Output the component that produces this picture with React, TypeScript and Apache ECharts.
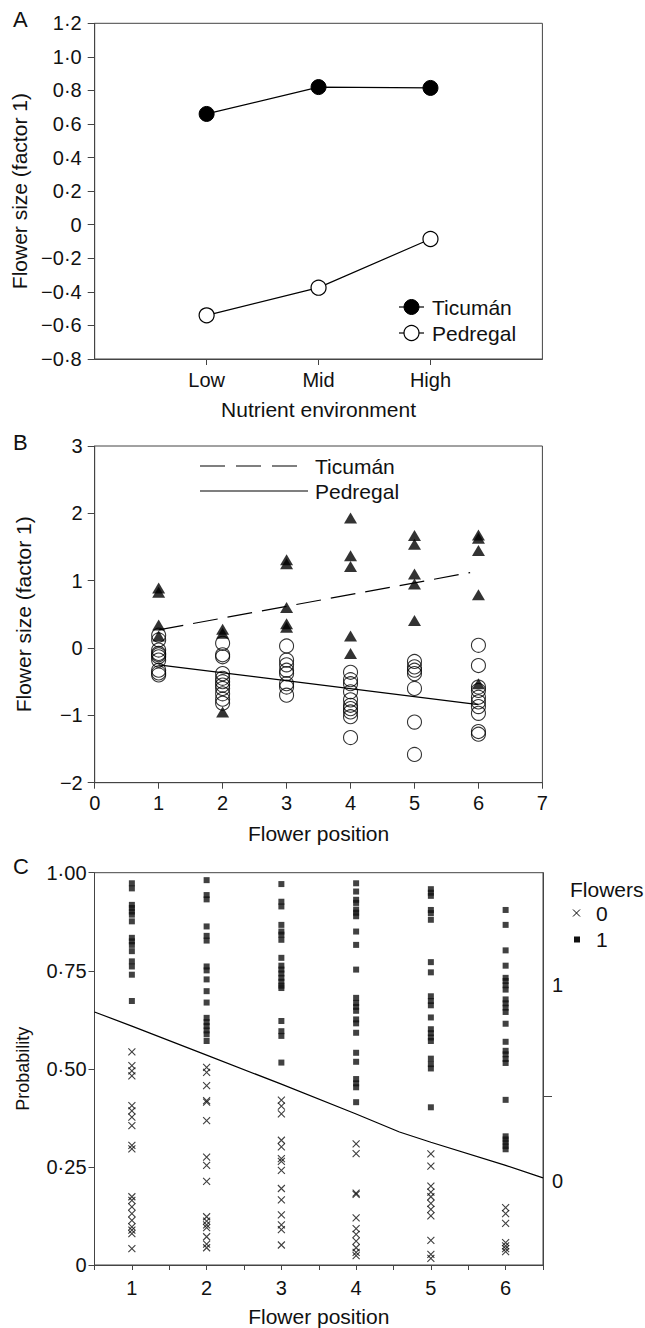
import React, { useEffect, useRef } from "react";
import * as echarts from "echarts";

const FONT = "'Liberation Sans', Arial, Helvetica, sans-serif";
const TEXT = "#111";
const AXIS = "#444";
const INK = "#000";

// ---------- Panel A ----------
const aCategories = ["Low", "Mid", "High"];
const aTicuman = [0.66, 0.82, 0.815];
const aPedregal = [-0.54, -0.375, -0.085];

// ---------- Panel B ----------
const bPositions = [1, 2, 3, 4, 5, 6];
// Ticumán (triangles), one row per flower position
const bTicuman: number[][] = [
  [0.89, 0.83, 0.34, 0.18],
  [0.28, 0.22, -0.95],
  [1.31, 1.25, 0.6, 0.36, 0.31],
  [1.93, 1.37, 1.21, 0.18, -0.08],
  [1.67, 1.54, 1.1, 0.95, 0.41],
  [1.68, 1.63, 1.45, 0.79, -0.53],
];
// Pedregal (open circles), one row per flower position
const bPedregal: number[][] = [
  [0.19, 0.12, -0.03, -0.08, -0.1, -0.13, -0.18, -0.33, -0.37, -0.4],
  [0.07, -0.1, -0.13, -0.38, -0.45, -0.5, -0.55, -0.6, -0.68, -0.76, -0.82],
  [0.03, -0.18, -0.25, -0.33, -0.38, -0.53, -0.58, -0.7],
  [-0.36, -0.47, -0.53, -0.65, -0.77, -0.85, -0.9, -0.95, -1.02, -1.33],
  [-0.2, -0.28, -0.33, -0.38, -0.6, -1.1, -1.58],
  [0.04, -0.26, -0.58, -0.63, -0.73, -0.8, -0.87, -0.97, -1.24, -1.28],
];
const bTicumanFitX = [1, 5.87];
const bTicumanFitY = [0.27, 1.12];
const bPedregalFitX = [1, 6];
const bPedregalFitY = [-0.25, -0.84];

// ---------- Panel C ----------
const cPositions = [1, 2, 3, 4, 5, 6];
// Flowers = 1 (squares)
const cOnes: number[][] = [
  [0.973, 0.96, 0.918, 0.91, 0.901, 0.893, 0.876, 0.834, 0.825, 0.816, 0.8, 0.774, 0.761, 0.74, 0.673],
  [0.981, 0.943, 0.932, 0.863, 0.839, 0.827, 0.761, 0.751, 0.728, 0.698, 0.669, 0.63, 0.619, 0.609, 0.598, 0.588, 0.571],
  [0.971, 0.926, 0.914, 0.867, 0.85, 0.842, 0.829, 0.783, 0.763, 0.753, 0.743, 0.732, 0.722, 0.712, 0.706, 0.622, 0.596, 0.584, 0.516],
  [0.973, 0.952, 0.931, 0.923, 0.906, 0.898, 0.889, 0.85, 0.816, 0.753, 0.681, 0.668, 0.658, 0.648, 0.626, 0.616, 0.592, 0.541, 0.518, 0.474, 0.463, 0.453, 0.415],
  [0.958, 0.949, 0.941, 0.905, 0.897, 0.88, 0.772, 0.746, 0.685, 0.673, 0.662, 0.631, 0.601, 0.591, 0.58, 0.571, 0.526, 0.512, 0.501, 0.402],
  [0.905, 0.867, 0.802, 0.763, 0.732, 0.724, 0.713, 0.702, 0.677, 0.667, 0.656, 0.645, 0.615, 0.569, 0.546, 0.537, 0.525, 0.515, 0.421, 0.328, 0.32, 0.312, 0.303, 0.295],
];
// Flowers = 0 (crosses)
const cZeros: number[][] = [
  [0.543, 0.508, 0.495, 0.482, 0.406, 0.393, 0.377, 0.355, 0.305, 0.296, 0.174, 0.165, 0.148, 0.131, 0.114, 0.097, 0.089, 0.08, 0.042],
  [0.504, 0.491, 0.457, 0.419, 0.415, 0.368, 0.275, 0.254, 0.213, 0.123, 0.112, 0.102, 0.095, 0.072, 0.053, 0.044],
  [0.42, 0.405, 0.385, 0.318, 0.301, 0.271, 0.264, 0.241, 0.195, 0.166, 0.128, 0.102, 0.09, 0.051],
  [0.309, 0.284, 0.183, 0.18, 0.12, 0.093, 0.078, 0.061, 0.044, 0.032, 0.024],
  [0.283, 0.252, 0.201, 0.186, 0.174, 0.157, 0.142, 0.125, 0.063, 0.027, 0.017],
  [0.146, 0.131, 0.106, 0.057, 0.049, 0.042, 0.034],
];
const cCurveX = [0.5, 1, 2, 3, 4, 4.58, 5, 6, 6.5];
const cCurveY = [0.645, 0.609, 0.535, 0.461, 0.385, 0.339, 0.313, 0.254, 0.222];
const cRightLabels = [0, 1];
const cRightTicks = [0.433];
const cRightMin = -0.427;
const cRightMax = 1.569;

function fmtDec(v: number, d: number): string {
  if (Math.abs(v) < 1e-9) return "0";
  const s = Math.abs(v).toFixed(d).replace(".", "\u00b7");
  return (v < 0 ? "\u2212" : "") + s;
}
function fmtInt(v: number): string {
  if (Math.abs(v) < 1e-9) return "0";
  return (v < 0 ? "\u2212" : "") + String(Math.abs(Math.round(v)));
}

const flatten = (pos: number[], rows: number[][]) =>
  rows.flatMap((r, i) => r.map((v) => [pos[i], v]));

const CROSS = "path://M0,0L10,10M0,10L10,0";

export default function App() {
  const ref = useRef<HTMLDivElement>(null);
  useEffect(() => {
    document.body.style.margin = "0";
    if (!ref.current) return;
    const chart = echarts.init(ref.current, undefined, { renderer: "svg" });

    const axisLine = { show: true, onZero: false, lineStyle: { color: AXIS, width: 1 } };
    const label = (margin: number, extra: any = {}) => ({
      color: TEXT,
      fontFamily: FONT,
      fontSize: 20,
      margin,
      ...extra,
    });
    const nameStyle = (size = 21) => ({ color: TEXT, fontFamily: FONT, fontSize: size });

    const option: any = {
      animation: false,
      backgroundColor: "#fff",
      grid: [
        { left: 94.7, top: 23.3, width: 447.7, height: 335.7, show: true, borderColor: AXIS, borderWidth: 1 },
        { left: 94.7, top: 446, width: 447.7, height: 336.7, show: true, borderColor: AXIS, borderWidth: 1 },
        { left: 94.5, top: 872.7, width: 448.5, height: 394, show: true, borderColor: AXIS, borderWidth: 1 },
      ],
      xAxis: [
        {
          gridIndex: 0,
          type: "value",
          min: 0,
          max: 4,
          interval: 1,
          axisLine,
          splitLine: { show: false },
          axisTick: { show: true, length: 6, lineStyle: { color: AXIS }, customValues: [1, 2, 3] },
          axisLabel: label(11, {
            customValues: [1, 2, 3],
            formatter: (v: number) => aCategories[Math.round(v) - 1] || "",
          }),
          name: "Nutrient environment",
          nameLocation: "middle",
          nameGap: 40,
          nameTextStyle: nameStyle(),
        },
        {
          gridIndex: 1,
          type: "value",
          min: 0,
          max: 7,
          interval: 1,
          axisLine,
          splitLine: { show: false },
          axisTick: { show: true, length: 6, lineStyle: { color: AXIS } },
          axisLabel: label(10, { formatter: fmtInt }),
          name: "Flower position",
          nameLocation: "middle",
          nameGap: 40,
          nameTextStyle: nameStyle(),
        },
        {
          gridIndex: 2,
          type: "value",
          min: 0.5,
          max: 6.5,
          interval: 0.5,
          axisLine,
          splitLine: { show: false },
          axisTick: { show: true, length: 5, lineStyle: { color: AXIS } },
          axisLabel: label(13, {
            interval: 0,
            formatter: (v: number) => (Math.abs(v - Math.round(v)) < 1e-6 ? String(Math.round(v)) : ""),
          }),
          name: "Flower position",
          nameLocation: "middle",
          nameGap: 41,
          nameTextStyle: nameStyle(),
        },
      ],
      yAxis: [
        {
          gridIndex: 0,
          type: "value",
          min: -0.8,
          max: 1.2,
          interval: 0.2,
          axisLine,
          splitLine: { show: false },
          axisTick: { show: true, length: 7, lineStyle: { color: AXIS } },
          axisLabel: label(13, { formatter: (v: number) => fmtDec(v, 1) }),
          name: "Flower size (factor 1)",
          nameLocation: "middle",
          nameGap: 61,
          nameRotate: 90,
          nameTextStyle: nameStyle(),
        },
        {
          gridIndex: 1,
          type: "value",
          min: -2,
          max: 3,
          interval: 1,
          axisLine,
          splitLine: { show: false },
          axisTick: { show: true, length: 7, lineStyle: { color: AXIS } },
          axisLabel: label(12, { formatter: fmtInt }),
          name: "Flower size (factor 1)",
          nameLocation: "middle",
          nameGap: 61,
          nameRotate: 90,
          nameTextStyle: nameStyle(),
        },
        {
          gridIndex: 2,
          type: "value",
          min: 0,
          max: 1,
          interval: 0.25,
          axisLine,
          splitLine: { show: false },
          axisTick: { show: true, length: 6, lineStyle: { color: AXIS } },
          axisLabel: label(8, { formatter: (v: number) => fmtDec(v, 2) }),
          name: "Probability",
          nameLocation: "middle",
          nameGap: 63,
          nameRotate: 90,
          nameTextStyle: nameStyle(18),
        },
        {
          gridIndex: 2,
          type: "value",
          position: "right",
          min: cRightMin,
          max: cRightMax,
          axisLine,
          splitLine: { show: false },
          axisTick: { show: true, length: 9, lineStyle: { color: AXIS }, customValues: cRightTicks },
          axisLabel: label(9, { customValues: cRightLabels, formatter: (v: number) => String(v) }),
        },
      ],
      series: [
        // Panel A
        {
          type: "line",
          name: "Ticumán",
          xAxisIndex: 0,
          yAxisIndex: 0,
          data: aTicuman.map((v, i) => [i + 1, v]),
          symbol: "circle",
          symbolSize: 15,
          itemStyle: { color: INK, borderColor: INK, borderWidth: 1 },
          lineStyle: { color: INK, width: 1.2 },
          silent: true,
          z: 3,
        },
        {
          type: "line",
          name: "Pedregal",
          xAxisIndex: 0,
          yAxisIndex: 0,
          data: aPedregal.map((v, i) => [i + 1, v]),
          symbol: "circle",
          symbolSize: 15,
          itemStyle: { color: "#fff", borderColor: INK, borderWidth: 1.2 },
          lineStyle: { color: INK, width: 1.2 },
          silent: true,
          z: 3,
        },
        // Panel B
        {
          type: "scatter",
          name: "Ticumán",
          xAxisIndex: 1,
          yAxisIndex: 1,
          data: flatten(bPositions, bTicuman),
          symbol: "triangle",
          symbolSize: [13, 11],
          itemStyle: { color: INK },
          silent: true,
        },
        {
          type: "scatter",
          name: "Pedregal",
          xAxisIndex: 1,
          yAxisIndex: 1,
          data: flatten(bPositions, bPedregal),
          symbol: "circle",
          symbolSize: 14,
          itemStyle: { color: "rgba(0,0,0,0)", borderColor: INK, borderWidth: 1.1 },
          silent: true,
        },
        {
          type: "line",
          name: "Ticumán fit",
          xAxisIndex: 1,
          yAxisIndex: 1,
          data: bTicumanFitX.map((x, i) => [x, bTicumanFitY[i]]),
          showSymbol: false,
          symbol: "none",
          lineStyle: { color: INK, width: 1.2, type: [25, 10] },
          silent: true,
        },
        {
          type: "line",
          name: "Pedregal fit",
          xAxisIndex: 1,
          yAxisIndex: 1,
          data: bPedregalFitX.map((x, i) => [x, bPedregalFitY[i]]),
          showSymbol: false,
          symbol: "none",
          lineStyle: { color: INK, width: 1.2 },
          silent: true,
        },
        // Panel C
        {
          type: "scatter",
          name: "1",
          xAxisIndex: 2,
          yAxisIndex: 2,
          data: flatten(cPositions, cOnes),
          symbol: "rect",
          symbolSize: 6,
          itemStyle: { color: "#111" },
          silent: true,
        },
        {
          type: "scatter",
          name: "0",
          xAxisIndex: 2,
          yAxisIndex: 2,
          data: flatten(cPositions, cZeros),
          symbol: CROSS,
          symbolSize: 7,
          itemStyle: { color: "rgba(0,0,0,0)", borderColor: "#111", borderWidth: 1.1 },
          silent: true,
        },
        {
          type: "line",
          name: "Fit",
          xAxisIndex: 2,
          yAxisIndex: 2,
          data: cCurveX.map((x, i) => [x, cCurveY[i]]),
          showSymbol: false,
          symbol: "none",
          lineStyle: { color: INK, width: 1.2 },
          silent: true,
        },
      ],
      graphic: [
        // panel letters
        { type: "text", left: 13, top: 8, style: { text: "A", font: `22px ${FONT}`, fill: TEXT } },
        { type: "text", left: 13, top: 431, style: { text: "B", font: `22px ${FONT}`, fill: TEXT } },
        { type: "text", left: 13, top: 855, style: { text: "C", font: `22px ${FONT}`, fill: TEXT } },
        // Panel A legend
        { type: "line", shape: { x1: 399, y1: 307, x2: 424, y2: 307 }, style: { stroke: INK, lineWidth: 1.2 } },
        { type: "circle", shape: { cx: 411.5, cy: 307, r: 7.5 }, style: { fill: INK, stroke: INK } },
        { type: "text", x: 432, y: 307, style: { text: "Ticumán", font: `21px ${FONT}`, fill: TEXT, verticalAlign: "middle" } },
        { type: "line", shape: { x1: 399, y1: 333, x2: 424, y2: 333 }, style: { stroke: INK, lineWidth: 1.2 } },
        { type: "circle", shape: { cx: 411.5, cy: 333, r: 7.5 }, style: { fill: "#fff", stroke: INK, lineWidth: 1.2 } },
        { type: "text", x: 432, y: 333, style: { text: "Pedregal", font: `21px ${FONT}`, fill: TEXT, verticalAlign: "middle" } },
        // Panel B legend
        { type: "line", shape: { x1: 200, y1: 466, x2: 298, y2: 466 }, style: { stroke: INK, lineWidth: 1.2, lineDash: [25, 11] } },
        { type: "text", x: 315, y: 466, style: { text: "Ticumán", font: `21px ${FONT}`, fill: TEXT, verticalAlign: "middle" } },
        { type: "line", shape: { x1: 200, y1: 491, x2: 308, y2: 491 }, style: { stroke: INK, lineWidth: 1.2 } },
        { type: "text", x: 315, y: 491, style: { text: "Pedregal", font: `21px ${FONT}`, fill: TEXT, verticalAlign: "middle" } },
        // Panel C legend
        { type: "text", x: 570, y: 889, style: { text: "Flowers", font: `21px ${FONT}`, fill: TEXT, verticalAlign: "middle" } },
        { type: "line", shape: { x1: 573, y1: 909.5, x2: 580, y2: 916.5 }, style: { stroke: INK, lineWidth: 1 } },
        { type: "line", shape: { x1: 573, y1: 916.5, x2: 580, y2: 909.5 }, style: { stroke: INK, lineWidth: 1 } },
        { type: "text", x: 596, y: 913, style: { text: "0", font: `21px ${FONT}`, fill: TEXT, verticalAlign: "middle" } },
        { type: "rect", shape: { x: 574, y: 936.5, width: 6, height: 6 }, style: { fill: "#111" } },
        { type: "text", x: 596, y: 939, style: { text: "1", font: `21px ${FONT}`, fill: TEXT, verticalAlign: "middle" } },
      ],
    };
    chart.setOption(option);
    return () => chart.dispose();
  }, []);
  return <div ref={ref} style={{ width: 645, height: 1328 }} />;
}
